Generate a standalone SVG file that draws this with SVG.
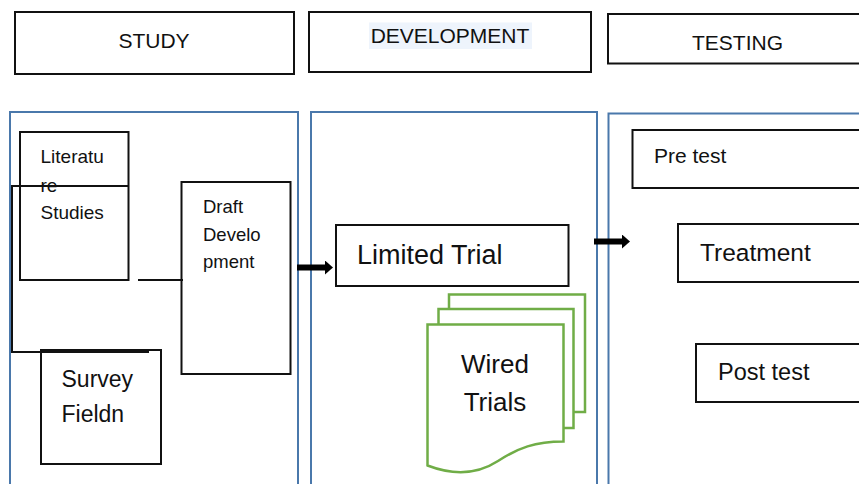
<svg xmlns="http://www.w3.org/2000/svg" width="859" height="484" viewBox="0 0 859 484">
  <style>
    text { font-family: "Liberation Sans", Arial, sans-serif; fill: #111; }
    .box { fill: #fff; stroke: #111; stroke-width: 2; }
    .col { fill: #fff; stroke: #4a78ab; stroke-width: 2; }
    .doc { fill: #fff; stroke: #70ad47; stroke-width: 2.5; stroke-linejoin: miter; }
    .head { font-size: 21px; text-anchor: middle; }
    .thin { fill: none; stroke: #111; stroke-width: 2; }
    .flow { stroke: #000; stroke-width: 6; marker-end: url(#head); }
  </style>
  <defs>
    <marker id="head" viewBox="0 0 8 14" markerWidth="8" markerHeight="14" refX="0" refY="7" markerUnits="userSpaceOnUse" orient="auto">
      <path d="M0,0 L8,7 L0,14 Z" fill="#000"/>
    </marker>
  </defs>

  <rect width="859" height="484" fill="#fff"/>

  <!-- phase headers -->
  <g id="hdr-study">
    <rect class="box" x="15" y="12" width="279" height="62"/>
    <text class="head" x="154" y="48">STUDY</text>
  </g>
  <g id="hdr-development">
    <rect class="box" x="309" y="12" width="282" height="60"/>
    <rect x="369" y="22.5" width="163" height="26.5" fill="#eef4fc"/>
    <text class="head" x="450" y="43">DEVELOPMENT</text>
  </g>
  <g id="hdr-testing">
    <rect class="box" x="608" y="14" width="270" height="49.5"/>
    <text class="head" x="737.5" y="50">TESTING</text>
  </g>

  <!-- phase columns -->
  <g id="col-study"><rect class="col" x="10" y="112" width="288" height="390"/></g>
  <g id="col-development"><rect class="col" x="311" y="112" width="286" height="390"/></g>
  <g id="col-testing"><rect class="col" x="608.5" y="113.5" width="270" height="390"/></g>

  <!-- study phase -->
  <g id="literature-studies">
    <rect class="box" x="20" y="132" width="108.5" height="148"/>
    <text font-size="19" x="40.5" y="163">Literatu</text>
    <text font-size="19" x="40.5" y="191.5">re</text>
    <text font-size="19" x="40.5" y="219">Studies</text>
  </g>
  <g id="draft-development">
    <rect class="box" x="181.5" y="182" width="109" height="192"/>
    <text font-size="18.5" x="203" y="213">Draft</text>
    <text font-size="18.5" x="203" y="241">Develo</text>
    <text font-size="18.5" x="203" y="268">pment</text>
  </g>
  <g id="survey-field">
    <rect class="box" x="41" y="350" width="120" height="114"/>
    <text font-size="23" x="61.5" y="387">Survey</text>
    <text font-size="23" x="61.5" y="422">Fieldn</text>
  </g>

  <!-- development phase -->
  <g id="limited-trial">
    <rect class="box" x="336" y="225" width="232.5" height="61"/>
    <text font-size="27" x="357" y="264">Limited Trial</text>
  </g>
  <g id="wired-trials">
    <path class="doc" d="M449,308 V294.5 H585 V412 H573.5"/>
    <path class="doc" d="M438.5,324.5 V309 H573.5 V428 H563.5"/>
    <path class="doc" d="M427.5,465.5 V324.5 H563.5 V441.5 C535,441.5 518,448 498,461 C478,474 455,476 427.5,465.5 Z"/>
    <text font-size="26" x="495" y="373" text-anchor="middle">Wired</text>
    <text font-size="26" x="495" y="411" text-anchor="middle">Trials</text>
  </g>

  <!-- testing phase -->
  <g id="pre-test">
    <rect class="box" x="632.5" y="130" width="240" height="58"/>
    <text font-size="21" x="654" y="163">Pre test</text>
  </g>
  <g id="treatment">
    <rect class="box" x="678" y="224" width="200" height="58"/>
    <text font-size="24.5" x="700" y="261">Treatment</text>
  </g>
  <g id="post-test">
    <rect class="box" x="696" y="344" width="180" height="58"/>
    <text font-size="23.5" x="718" y="380">Post test</text>
  </g>

  <!-- connectors -->
  <g id="connectors">
    <polyline class="thin" points="128.5,186 12,186 12,352 149,352"/>
    <line class="thin" x1="138" y1="280" x2="183" y2="280"/>
    <line class="flow" x1="297" y1="267.5" x2="325" y2="267.5"/>
    <line class="flow" x1="594" y1="241.5" x2="622" y2="241.5"/>
  </g>
</svg>
